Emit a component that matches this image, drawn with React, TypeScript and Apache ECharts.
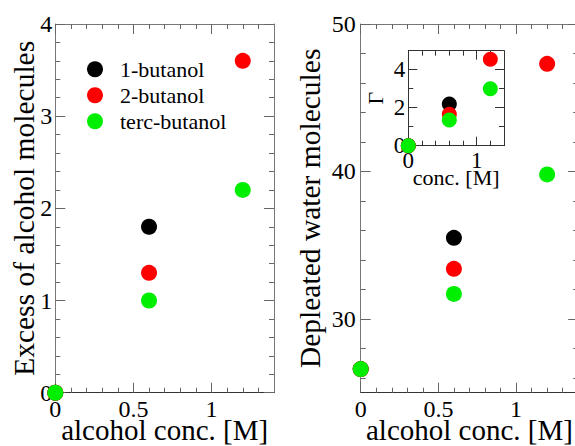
import { useEffect, useRef } from "react";
import * as echarts from "echarts";

// ---- data ----
const concentrations = [0, 0.6, 1.2];
const excess1Butanol = [0, 1.8, null];
const excess2Butanol = [0, 1.3, 3.6];
const excessTercButanol = [0, 1.0, 2.2];
const depleted1Butanol = [26.6, 35.5, null];
const depleted2Butanol = [26.6, 33.4, 47.3];
const depletedTercButanol = [26.6, 31.7, 39.8];
const gamma1Butanol = [0, 2.2, null];
const gamma2Butanol = [0, 1.65, 4.55];
const gammaTercButanol = [0, 1.35, 3.0];

const seriesNames = ["1-butanol", "2-butanol", "terc-butanol"];
const seriesColors = ["#000000", "#ff0000", "#00ee00"];

// ---- ticks / labels ----
const concMajorTicks = [0, 0.5, 1];
const concMinorTicks = [0.1, 0.2, 0.3, 0.4, 0.6, 0.7, 0.8, 0.9, 1.1, 1.2, 1.3];
const excessMajorTicks = [0, 1, 2, 3, 4];
const excessMinorTicks = [0.2, 0.4, 0.6, 0.8, 1.2, 1.4, 1.6, 1.8, 2.2, 2.4, 2.6, 2.8, 3.2, 3.4, 3.6, 3.8];
const depletedMajorTicks = [30, 40, 50];
const depletedMinorTicks = [26, 28, 32, 34, 36, 38, 42, 44, 46, 48];
const insetConcMajorTicks = [0, 1];
const insetConcMinorTicks = [0.2, 0.4, 0.6, 0.8, 1.2];
const gammaMajorTicks = [0, 2, 4];
const gammaMinorTicks = [1, 3];

const FONT = "'Liberation Serif', 'Times New Roman', serif";

type AxisCfg = {
  dim: "x" | "y";
  gridIndex: number;
  min: number;
  max: number;
  majors: number[];
  minors: number[];
  name: string;
  nameGap: number;
  nameSize: number;
  nameLineHeight: number;
  labelSize: number;
  labelLineHeight: number;
  labelMargin: number;
  majorLen: number;
  minorLen: number;
  lineColor: string;
  oppLineColor: string;
  tickColor: string;
};

function makeAxes(c: AxisCfg) {
  const pos = c.dim === "x" ? ["bottom", "top"] : ["left", "right"];
  const base = {
    type: "value",
    gridIndex: c.gridIndex,
    min: c.min,
    max: c.max,
    splitLine: { show: false },
    silent: true,
    nameMoveOverlap: false,
  };
  const tick = (vals: number[], len: number) => ({
    show: true,
    inside: true,
    length: len,
    customValues: vals,
    lineStyle: { color: c.tickColor, width: 1 },
  });
  return [
    {
      ...base,
      position: pos[0],
      axisLine: { show: true, onZero: false, lineStyle: { color: c.lineColor, width: 1 } },
      axisTick: tick(c.majors, c.majorLen),
      axisLabel: {
        show: true,
        customValues: c.majors,
        margin: c.labelMargin,
        fontSize: c.labelSize,
        lineHeight: c.labelLineHeight,
        fontFamily: FONT,
        color: "#000",
      },
      name: c.name,
      nameLocation: "middle",
      nameGap: c.nameGap,
      nameTextStyle: {
        fontSize: c.nameSize,
        lineHeight: c.nameLineHeight,
        fontFamily: FONT,
        color: "#000",
      },
    },
    {
      ...base,
      position: pos[0],
      axisLine: { show: false, onZero: false },
      axisTick: tick(c.minors, c.minorLen),
      axisLabel: { show: false },
    },
    {
      ...base,
      position: pos[1],
      axisLine: { show: true, onZero: false, lineStyle: { color: c.oppLineColor, width: 1 } },
      axisTick: tick(c.majors, c.majorLen),
      axisLabel: { show: false },
    },
    {
      ...base,
      position: pos[1],
      axisLine: { show: false, onZero: false },
      axisTick: tick(c.minors, c.minorLen),
      axisLabel: { show: false },
    },
  ];
}

function points(values: (number | null)[]) {
  return concentrations
    .map((c, i) => (values[i] == null ? null : [c, values[i]]))
    .filter((p) => p !== null);
}

export default function App() {
  const ref = useRef<HTMLDivElement>(null);
  useEffect(() => {
    if (!ref.current) return;
    const chart = echarts.init(ref.current, undefined, { renderer: "svg" });

    const xAxes = [
      ...makeAxes({
        dim: "x", gridIndex: 0, min: 0, max: 1.4,
        majors: concMajorTicks, minors: concMinorTicks,
        name: "alcohol conc. [M]", nameGap: 26.5, nameSize: 29, nameLineHeight: 22,
        labelSize: 24, labelLineHeight: 16, labelMargin: 8, majorLen: 10, minorLen: 5,
        lineColor: "#333", oppLineColor: "#777", tickColor: "#666",
      }),
      ...makeAxes({
        dim: "x", gridIndex: 1, min: 0, max: 1.4,
        majors: concMajorTicks, minors: concMinorTicks,
        name: "alcohol conc. [M]", nameGap: 26.5, nameSize: 29, nameLineHeight: 22,
        labelSize: 24, labelLineHeight: 16, labelMargin: 8, majorLen: 10, minorLen: 5,
        lineColor: "#333", oppLineColor: "#777", tickColor: "#666",
      }),
      ...makeAxes({
        dim: "x", gridIndex: 2, min: 0, max: 1.4,
        majors: insetConcMajorTicks, minors: insetConcMinorTicks,
        name: "conc. [M]", nameGap: 23, nameSize: 22, nameLineHeight: 18,
        labelSize: 23, labelLineHeight: 15, labelMargin: 7.5, majorLen: 9, minorLen: 5,
        lineColor: "#333", oppLineColor: "#333", tickColor: "#333",
      }),
    ];
    const yAxes = [
      ...makeAxes({
        dim: "y", gridIndex: 0, min: 0, max: 4,
        majors: excessMajorTicks, minors: excessMinorTicks,
        name: "Excess of alcohol molecules", nameGap: 16, nameSize: 29.5, nameLineHeight: 30,
        labelSize: 24, labelLineHeight: 24, labelMargin: 3, majorLen: 10, minorLen: 5,
        lineColor: "#777", oppLineColor: "#777", tickColor: "#666",
      }),
      ...makeAxes({
        dim: "y", gridIndex: 1, min: 25, max: 50,
        majors: depletedMajorTicks, minors: depletedMinorTicks,
        name: "Depleated water molecules", nameGap: 36, nameSize: 29.5, nameLineHeight: 30,
        labelSize: 24, labelLineHeight: 24, labelMargin: 5, majorLen: 10, minorLen: 5,
        lineColor: "#777", oppLineColor: "#777", tickColor: "#666",
      }),
      ...makeAxes({
        dim: "y", gridIndex: 2, min: 0, max: 5,
        majors: gammaMajorTicks, minors: gammaMinorTicks,
        name: "Γ", nameGap: 22, nameSize: 22, nameLineHeight: 22,
        labelSize: 23, labelLineHeight: 14, labelMargin: 3, majorLen: 9, minorLen: 5,
        lineColor: "#333", oppLineColor: "#333", tickColor: "#333",
      }),
    ];

    const panels = [
      { grid: 0, sets: [excess1Butanol, excess2Butanol, excessTercButanol], size: 16 },
      { grid: 1, sets: [depleted1Butanol, depleted2Butanol, depletedTercButanol], size: 16 },
      { grid: 2, sets: [gamma1Butanol, gamma2Butanol, gammaTercButanol], size: 15 },
    ];
    const series: any[] = [];
    panels.forEach((p) => {
      p.sets.forEach((vals, i) => {
        series.push({
          type: "scatter",
          name: seriesNames[i],
          xAxisIndex: p.grid * 4,
          yAxisIndex: p.grid * 4,
          symbol: "circle",
          symbolSize: p.size,
          itemStyle: { color: seriesColors[i], opacity: 1 },
          emphasis: { disabled: true },
          data: points(vals),
          z: 3 + i,
        });
      });
    });

    chart.setOption({
      animation: false,
      backgroundColor: "#fff",
      grid: [
        { left: 55.3, top: 24, width: 218.7, height: 368.7, outerBoundsMode: "none", containLabel: false },
        { left: 360.7, top: 24, width: 217.5, height: 368.7, outerBoundsMode: "none", containLabel: false },
        {
          left: 408.3, top: 50.7, width: 95.7, height: 95,
          outerBoundsMode: "none", containLabel: false,
          show: true, backgroundColor: "#fff", borderWidth: 0,
        },
      ],
      legend: {
        data: seriesNames,
        orient: "vertical",
        left: 82,
        top: 53.3,
        icon: "circle",
        itemWidth: 40,
        itemHeight: 16,
        itemGap: 4,
        selectedMode: false,
        textStyle: { fontSize: 22, fontFamily: FONT, color: "#000", lineHeight: 22 },
      },
      xAxis: xAxes,
      yAxis: yAxes,
      series,
    });
    return () => chart.dispose();
  }, []);
  return (
    <div
      ref={ref}
      style={{ position: "absolute", left: 0, top: 0, width: 575, height: 446, overflow: "hidden" }}
    />
  );
}
